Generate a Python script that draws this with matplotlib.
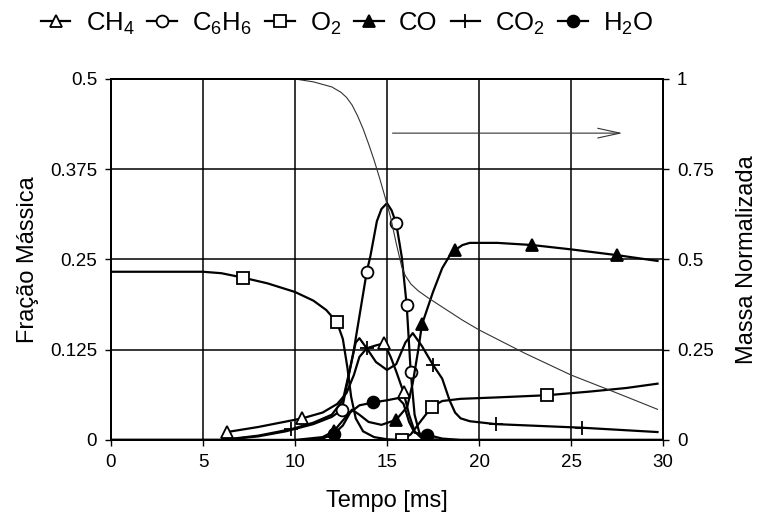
import matplotlib.pyplot as plt

plt.rcParams['font.family'] = ['Liberation Sans', 'DejaVu Sans']
plt.rcParams['mathtext.fontset'] = 'custom'
plt.rcParams['mathtext.rm'] = 'Liberation Sans'
plt.rcParams['mathtext.default'] = 'regular'

# Mass fraction curves vs time [ms]; *_marks are the times that carry a marker
ch4_t = [6.3, 8.0, 10.4, 11.5, 12.3, 12.8, 13.2, 13.5, 13.9, 14.4, 14.85, 15.2, 15.5, 15.9, 16.2, 16.5, 16.9, 18.0, 30.0]
ch4 = [0.011, 0.018, 0.030, 0.038, 0.050, 0.065, 0.090, 0.115, 0.127, 0.131, 0.134, 0.115, 0.095, 0.066, 0.035, 0.012, 0.002, 0.0, 0.0]
ch4_marks = [6.3, 10.4, 14.85, 15.9]

c6h6_t = [0.0, 6.0, 8.0, 9.5, 11.0, 12.0, 12.55, 13.2, 13.9, 14.1, 14.45, 14.7, 15.0, 15.25, 15.5, 15.8, 16.07, 16.29, 16.5, 16.8, 17.2, 30.0]
c6h6 = [0.0, 0.0, 0.005, 0.012, 0.022, 0.032, 0.042, 0.125, 0.233, 0.255, 0.303, 0.320, 0.328, 0.318, 0.300, 0.254, 0.187, 0.094, 0.035, 0.006, 0.0, 0.0]
c6h6_marks = [12.55, 13.9, 15.5, 16.07, 16.29]

o2_t = [0.0, 5.0, 6.0, 7.15, 8.5, 10.0, 11.0, 11.7, 12.28, 12.6, 12.85, 13.05, 13.3, 13.7, 14.3, 15.0, 15.83, 16.3, 16.8, 17.44, 18.0, 19.0, 21.0, 23.7, 26.0, 28.0, 29.7]
o2 = [0.233, 0.233, 0.231, 0.225, 0.217, 0.205, 0.193, 0.180, 0.163, 0.140, 0.100, 0.060, 0.030, 0.012, 0.004, 0.001, 0.0, 0.008, 0.025, 0.046, 0.054, 0.057, 0.059, 0.062, 0.067, 0.072, 0.078]
o2_marks = [7.15, 12.28, 15.83, 17.44, 23.7]

co_t = [0.0, 10.0, 11.5, 12.1, 12.7, 13.1, 13.5, 14.0, 14.7, 15.5, 16.1, 16.4, 16.7, 16.9, 17.5, 18.0, 18.4, 18.7, 19.1, 19.5, 21.0, 22.9, 25.0, 27.5, 29.7]
co = [0.0, 0.0, 0.004, 0.012, 0.030, 0.042, 0.035, 0.025, 0.021, 0.028, 0.046, 0.079, 0.125, 0.160, 0.205, 0.238, 0.255, 0.263, 0.270, 0.273, 0.273, 0.270, 0.264, 0.256, 0.248]
co_marks = [12.1, 15.5, 16.9, 18.7, 22.9, 27.5]

co2_t = [0.0, 6.0, 8.0, 9.8, 11.0, 12.0, 12.6, 13.0, 13.3, 13.5, 13.9, 14.4, 15.0, 15.5, 16.0, 16.4, 16.9, 17.5, 18.0, 18.4, 18.7, 19.0, 19.5, 20.9, 25.6, 29.7]
co2 = [0.0, 0.0, 0.006, 0.015, 0.024, 0.035, 0.055, 0.100, 0.135, 0.141, 0.127, 0.108, 0.097, 0.105, 0.135, 0.148, 0.130, 0.104, 0.085, 0.055, 0.038, 0.030, 0.026, 0.022, 0.017, 0.011]
co2_marks = [9.8, 13.9, 17.5, 20.9, 25.6]

h2o_t = [0.0, 11.0, 11.6, 12.1, 12.6, 13.0, 13.5, 14.25, 15.0, 15.6, 15.9, 16.2, 16.5, 17.2, 18.0, 19.0, 30.0]
h2o = [0.0, 0.0, 0.003, 0.008, 0.020, 0.038, 0.048, 0.052, 0.055, 0.058, 0.050, 0.025, 0.010, 0.007, 0.002, 0.0, 0.0]
h2o_marks = [12.1, 14.25, 17.2]

# Normalized mass (right axis)
mass_t = [0.0, 10.0, 11.0, 12.0, 12.5, 12.8, 13.1, 13.4, 13.7, 14.0, 14.3, 14.6, 14.9, 15.2, 15.5, 15.8,
          16.0, 16.3, 16.7, 17.2, 17.8, 19.1, 20.0, 22.5, 25.0, 27.5, 29.7]
mass = [1.0, 1.0, 0.992, 0.978, 0.963, 0.949, 0.928, 0.898, 0.862, 0.82, 0.775, 0.725, 0.672, 0.616, 0.545, 0.48,
        0.455, 0.432, 0.413, 0.395, 0.375, 0.332, 0.305, 0.24, 0.18, 0.13, 0.085]

x_ticks = [0, 5, 10, 15, 20, 25, 30]
y_ticks = [0, 0.125, 0.25, 0.375, 0.5]
y_labels = ['0', '0.125', '0.25', '0.375', '0.5']
y2_ticks = [0, 0.25, 0.5, 0.75, 1]
y2_labels = ['0', '0.25', '0.5', '0.75', '1']

fig = plt.figure(figsize=(7.58, 5.22), dpi=100)
ax = fig.add_axes([0.1464, 0.1571, 0.7283, 0.6916])
ax2 = ax.twinx()

series = [
    (ch4_t, ch4, ch4_marks, '^', 'white', r'CH$_4$'),
    (c6h6_t, c6h6, c6h6_marks, 'o', 'white', r'C$_6$H$_6$'),
    (o2_t, o2, o2_marks, 's', 'white', r'O$_2$'),
    (co_t, co, co_marks, '^', 'black', 'CO'),
    (co2_t, co2, co2_marks, '+', 'black', r'CO$_2$'),
    (h2o_t, h2o, h2o_marks, 'o', 'black', r'H$_2$O'),
]

handles = []
for t, y, marks, m, fc, lab in series:
    idx = [t.index(v) for v in marks]
    ln, = ax.plot(t, y, color='black', lw=1.6, marker=m, markevery=idx,
                  markersize=10 if m == '+' else 8.5, markerfacecolor=fc,
                  markeredgecolor='black', markeredgewidth=1.3, label=lab, zorder=3)
    handles.append(ln)

ax2.plot(mass_t, mass, color='#333333', lw=0.8)

# arrow pointing to the right-hand axis
ax.annotate('', xy=(27.8, 0.425), xytext=(15.3, 0.425),
            arrowprops=dict(arrowstyle='->,head_length=1.6,head_width=0.35',
                            lw=0.8, color='#333333', shrinkA=0, shrinkB=0))

ax.set_xlim(0, 30)
ax.set_ylim(0, 0.5)
ax2.set_ylim(0, 1)
ax.set_xticks(x_ticks)
ax.set_xticklabels([str(v) for v in x_ticks])
ax.set_yticks(y_ticks)
ax.set_yticklabels(y_labels)
ax2.set_yticks(y2_ticks)
ax2.set_yticklabels(y2_labels)

ax.grid(True, color='black', lw=1.1)
ax.set_axisbelow(True)
for a in (ax, ax2):
    for s in a.spines.values():
        s.set_linewidth(1.4)
    a.tick_params(labelsize=13.5, length=4, width=1.0, direction='out', pad=6)

ax.set_xlabel('Tempo [ms]', fontsize=17, labelpad=14)
ax.set_ylabel('Fração Mássica', fontsize=17, labelpad=8)
ax2.set_ylabel('Massa Normalizada', fontsize=17, labelpad=16)

fig.legend(handles=handles, loc='center', bbox_to_anchor=(0.458, 0.955), ncol=6,
           frameon=False, fontsize=18.5, handlelength=1.15, handletextpad=0.6,
           columnspacing=0.5, borderaxespad=0)

fig.savefig('out.png', dpi=100)
